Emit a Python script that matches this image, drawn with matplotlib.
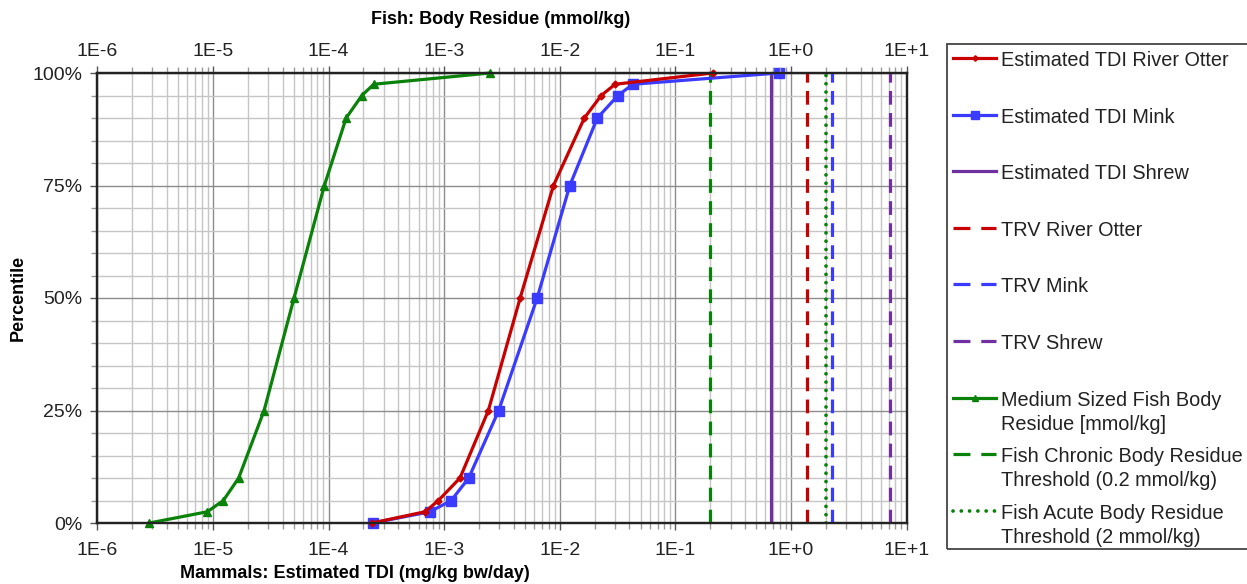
import numpy as np
import matplotlib
matplotlib.use("Agg")
import matplotlib.pyplot as plt
from matplotlib.ticker import FixedLocator, FuncFormatter, NullFormatter, MultipleLocator, PercentFormatter
from matplotlib.lines import Line2D
from matplotlib.patches import Rectangle

plt.rcParams['font.family'] = ['Liberation Sans', 'DejaVu Sans']

# ---- data ----
percentiles = [0.0, 0.025, 0.05, 0.10, 0.25, 0.50, 0.75, 0.90, 0.95, 0.975, 1.0]
tdi_otter = [2.38e-4, 6.84e-4, 8.91e-4, 1.37e-3, 2.41e-3, 4.54e-3, 8.81e-3, 1.63e-2, 2.28e-2, 3.01e-2, 0.211]
tdi_mink = [2.40e-4, 7.55e-4, 1.15e-3, 1.63e-3, 2.96e-3, 6.37e-3, 1.22e-2, 2.11e-2, 3.18e-2, 4.29e-2, 0.78]
fish_residue = [2.82e-6, 8.95e-6, 1.23e-5, 1.67e-5, 2.77e-5, 5.03e-5, 9.20e-5, 1.42e-4, 1.94e-4, 2.46e-4, 2.49e-3]
tdi_shrew = 0.673
trv_otter = 1.37
trv_mink = 2.27
trv_shrew = 7.2
fish_chronic = 0.2
fish_acute = 2.0

decade_exponents = [-6, -5, -4, -3, -2, -1, 0, 1]
tick_labels = ["1E-6", "1E-5", "1E-4", "1E-3", "1E-2", "1E-1", "1E+0", "1E+1"]

legend_labels = ["Estimated TDI River Otter", "Estimated TDI Mink", "Estimated TDI Shrew",
                 "TRV River Otter", "TRV Mink", "TRV Shrew",
                 "Medium Sized Fish Body\nResidue [mmol/kg]",
                 "Fish Chronic Body Residue\nThreshold (0.2 mmol/kg)",
                 "Fish Acute Body Residue\nThreshold (2 mmol/kg)"]

RED = '#C80000'
BLUE = '#3B3BFF'
PURPLE = '#7030A0'
GREEN = '#0A820A'

W, H = 1247, 584
fig = plt.figure(figsize=(W / 100, H / 100), dpi=100)
rect = [97.3 / W, 1 - 523 / H, (906.7 - 97.3) / W, 450 / H]
ax = fig.add_axes(rect)
ax.set_xscale('log')
ax.set_xlim(1e-6, 1e1)
ax.set_ylim(0, 1)

dash = (4.3, 2.6)
dot = (0.01, 2.2)
lw = 2.3
ax.plot(tdi_otter, percentiles, color=RED, lw=lw, marker='D', ms=3.5, clip_on=False, zorder=5)
ax.plot(tdi_mink, percentiles, color=BLUE, lw=lw, marker='s', ms=6.5, clip_on=False, zorder=4)
ax.plot([tdi_shrew, tdi_shrew], [0, 1], color=PURPLE, lw=lw, zorder=3)
ax.plot([trv_otter, trv_otter], [0, 1], color=RED, lw=lw, dashes=dash, zorder=3)
ax.plot([trv_mink, trv_mink], [0, 1], color=BLUE, lw=lw, dashes=dash, zorder=3)
ax.plot([trv_shrew, trv_shrew], [0, 1], color=PURPLE, lw=lw, dashes=dash, zorder=3)
ax.plot(fish_residue, percentiles, color=GREEN, lw=lw, marker='^', ms=6, clip_on=False, zorder=4)
ax.plot([fish_chronic, fish_chronic], [0, 1], color=GREEN, lw=lw, dashes=dash, zorder=3)
ax.plot([fish_acute, fish_acute], [0, 1], color=GREEN, lw=2.7, dashes=dot,
        dash_capstyle='round', zorder=3)

majors = [10.0 ** e for e in decade_exponents]
minors = [m * 10.0 ** e for e in decade_exponents[:-1] for m in range(2, 10)]


def style_x(a):
    a.xaxis.set_major_locator(FixedLocator(majors))
    a.xaxis.set_minor_locator(FixedLocator(minors))
    a.xaxis.set_major_formatter(FuncFormatter(lambda v, p: tick_labels[p] if p is not None else ""))
    a.xaxis.set_minor_formatter(NullFormatter())


style_x(ax)
ax.yaxis.set_major_locator(MultipleLocator(0.25))
ax.yaxis.set_minor_locator(MultipleLocator(0.05))
ax.yaxis.set_major_formatter(PercentFormatter(1.0, decimals=0))
ax.tick_params(which='major', direction='out', length=5, width=1, color='#555555',
               labelsize=14, labelcolor='#222222')
ax.tick_params(which='minor', direction='out', length=4, width=1, color='#999999')
ax.tick_params(axis='x', which='major', pad=9)
ax.tick_params(axis='y', which='major', pad=6)
ax.grid(which='major', color='#8c8c8c', lw=1.0, zorder=0)
ax.grid(which='minor', color='#c6c6c6', lw=1.0, zorder=0)
ax.set_axisbelow(True)
for s in ax.spines.values():
    s.set_color('#222222')
    s.set_linewidth(1.6)

# top axis (same scale: fish body residue)
axt = ax.twiny()
axt.set_xscale('log')
axt.set_xlim(ax.get_xlim())
style_x(axt)
axt.tick_params(which='major', direction='out', length=5, width=1, color='#555555',
                labelsize=14, labelcolor='#222222', pad=4)
axt.tick_params(which='minor', direction='out', length=4, width=1, color='#999999')
for s in axt.spines.values():
    s.set_color('#222222')
    s.set_linewidth(1.6)

fig.text(501 / W, 1 - 20 / H, "Fish: Body Residue (mmol/kg)", ha='center', va='center',
         fontsize=13, fontweight='bold')
fig.text(355 / W, 1 - 574 / H, "Mammals: Estimated TDI (mg/kg bw/day)", ha='center', va='center',
         fontsize=13, fontweight='bold')
fig.text(18 / W, 1 - 298 / H, "Percentile", ha='center', va='center', rotation=90,
         fontsize=13, fontweight='bold')

# legend (manual, Excel-style)
fig.patches.append(Rectangle((947 / W, 1 - 549 / H), (1252 - 947) / W, (549 - 44) / H,
                             transform=fig.transFigure, fill=False, ec='#444444', lw=1.3))
ldash = (5.3, 3.4)
styles = [dict(color=RED, lw=lw, marker='D', ms=3.5),
          dict(color=BLUE, lw=lw, marker='s', ms=6.5),
          dict(color=PURPLE, lw=lw),
          dict(color=RED, lw=lw, dashes=ldash),
          dict(color=BLUE, lw=lw, dashes=ldash),
          dict(color=PURPLE, lw=lw, dashes=ldash),
          dict(color=GREEN, lw=lw, marker='^', ms=6),
          dict(color=GREEN, lw=lw, dashes=ldash),
          dict(color=GREEN, lw=2.7, dashes=dot, dash_capstyle='round')]
for i, (lab, st) in enumerate(zip(legend_labels, styles)):
    yc = 58 + i * 56.6
    yf = 1 - yc / H
    x0, x1 = 953 / W, 996 / W
    mk = st.pop('marker', None)
    ms = st.pop('ms', None)
    fig.lines.append(Line2D([x0, x1], [yf, yf], transform=fig.transFigure, **st))
    if mk:
        fig.lines.append(Line2D([(x0 + x1) / 2], [yf], transform=fig.transFigure, marker=mk,
                                ms=ms * 0.8, color=st['color'], lw=0))
    fig.text(1001 / W, 1 - (yc - 7) / H, lab, ha='left', va='top', fontsize=14.3,
             color='#222222', linespacing=1.35)

fig.savefig("out.png", dpi=100)
